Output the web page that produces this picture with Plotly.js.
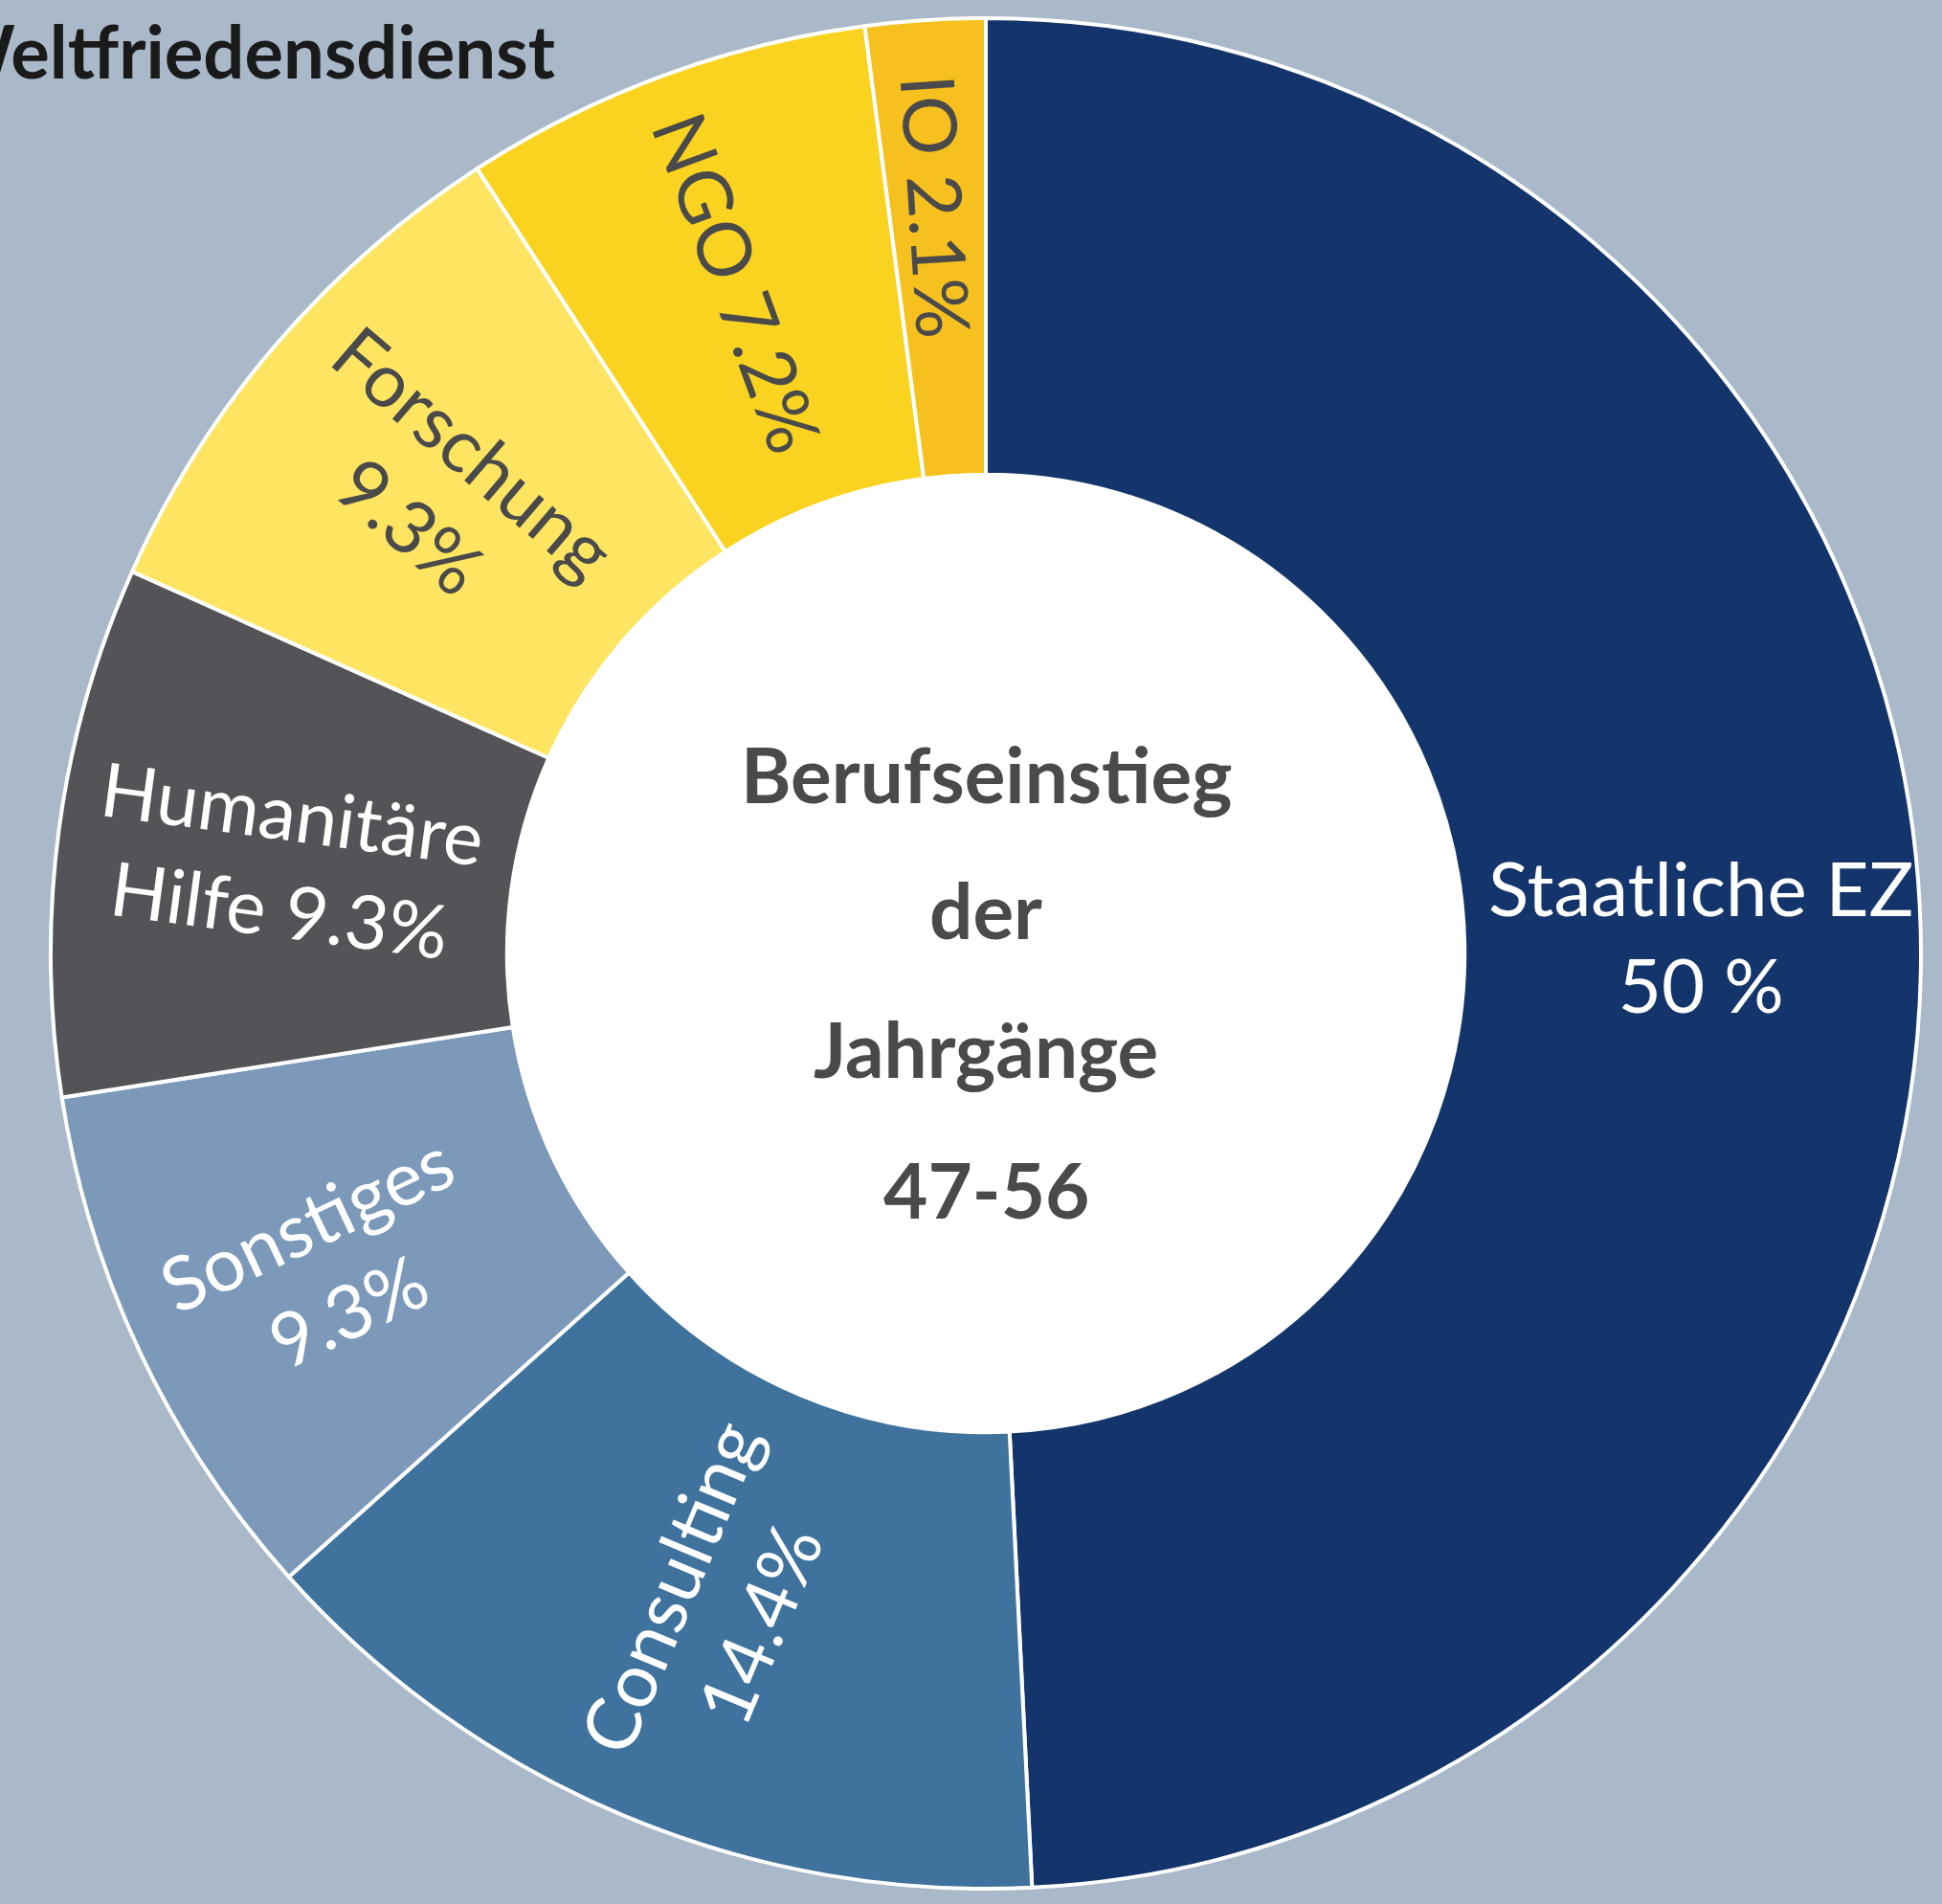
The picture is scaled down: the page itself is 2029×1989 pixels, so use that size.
<!DOCTYPE html>
<html>
<head>
<meta charset="utf-8">
<script src="https://cdn.plot.ly/plotly-3.0.1.min.js"></script>
<style>
  html, body { margin: 0; padding: 0; background: #a9b9c9; }
  #chart { width: 2029px; height: 1989px; }
</style>
</head>
<body>
<div id="chart"></div>
<script>
// ---- data ----
const categories = ["Staatliche EZ", "Consulting", "Sonstiges", "Humanitäre Hilfe", "Forschung", "NGO", "IO"];
const shares = [50, 14.4, 9.3, 9.3, 9.3, 7.2, 2.1];
const labelTexts = ["Staatliche EZ<br>50 %", "Consulting<br>14.4%", "Sonstiges<br>9.3%", "Humanitäre<br>Hilfe 9.3%", "Forschung<br>9.3%", "NGO 7.2%", "IO 2.1%"];
const centerLines = ["Berufseinstieg", "der", "Jahrgänge", "47-56"];
const headline = "Weltfriedensdienst";

// ---- styles ----
const sliceColors = ["#14356b", "#3f739e", "#7c99b9", "#545358", "#fde461", "#f9d31f", "#f6c01e"];
const labelColors = ["#ffffff", "#ffffff", "#ffffff", "#ffffff", "#4a4a4a", "#4a4a4a", "#4a4a4a"];
const labelRadius = [0.765, 0.755, 0.78, 0.755, 0.765, 0.765, 0.80];

const W = 2029, H = 1989;
const CX = 1030, CY = 996, R = 977, HOLE = 0.512;

const dom = (r) => ({
  x: [(CX - r) / W, (CX + r) / W],
  y: [(H - CY - r) / H, (H - CY + r) / H]
});

const donut = {
  type: "pie",
  values: shares,
  labels: categories,
  sort: false,
  direction: "clockwise",
  rotation: 0,
  hole: HOLE,
  domain: dom(R),
  marker: { colors: sliceColors, line: { color: "#ffffff", width: 4 } },
  textinfo: "none",
  hoverinfo: "label+percent",
  showlegend: false
};

const centerDisc = {
  type: "pie",
  values: [1],
  labels: ["center"],
  sort: false,
  domain: dom(R * HOLE),
  marker: { colors: ["#ffffff"], line: { width: 0 } },
  textinfo: "none",
  hoverinfo: "skip",
  showlegend: false
};

// label annotations placed at slice mid-angles computed from the data
const total = shares.reduce((a, b) => a + b, 0);
const annotations = [];
let cum = 0;
shares.forEach((v, i) => {
  const mid = (cum + v / 2) / total * 360; // degrees clockwise from 12 o'clock
  cum += v;
  const rad = mid * Math.PI / 180;
  const r = R * labelRadius[i];
  const px = CX + r * Math.sin(rad);
  const pyTop = CY - r * Math.cos(rad);
  let ang = mid < 180 ? mid - 90 : mid - 270;
  if (i === 0) ang = 0;
  annotations.push({
    x: px / W, y: 1 - pyTop / H, xref: "paper", yref: "paper",
    xanchor: "center", yanchor: "middle",
    text: labelTexts[i], showarrow: false, textangle: ang,
    font: { family: "Lato, 'Open Sans', sans-serif", size: 78, color: labelColors[i] },
    align: "center"
  });
});

const centerY = [808, 950, 1095, 1242];
centerLines.forEach((t, i) => {
  annotations.push({
    x: CX / W, y: 1 - centerY[i] / H, xref: "paper", yref: "paper",
    xanchor: "center", yanchor: "middle", showarrow: false,
    text: t,
    font: { family: "Lato, 'Open Sans', sans-serif", size: 80, color: "#4a4a4a", weight: "bold" }
  });
});

annotations.push({
  x: 582 / W, y: 1 - 52 / H, xref: "paper", yref: "paper",
  xanchor: "right", yanchor: "middle", showarrow: false,
  text: headline,
  font: { family: "Lato, 'Open Sans', sans-serif", size: 76, color: "#1a1a1a", weight: "bold" }
});

const layout = {
  width: W, height: H,
  margin: { l: 0, r: 0, t: 0, b: 0, pad: 0 },
  paper_bgcolor: "#a9b9c9",
  plot_bgcolor: "#a9b9c9",
  showlegend: false,
  annotations: annotations
};

Plotly.newPlot("chart", [centerDisc, donut], layout, { displayModeBar: false, staticPlot: true });
</script>
</body>
</html>
